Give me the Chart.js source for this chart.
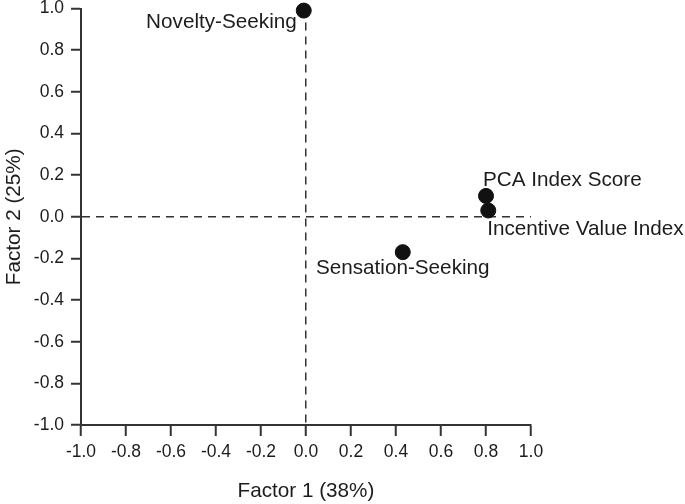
<!DOCTYPE html>
<html>
<head>
<meta charset="utf-8">
<script src="https://cdn.jsdelivr.net/npm/chart.js@4/dist/chart.umd.min.js"></script>
<style>
  html, body { margin: 0; padding: 0; background: #fff; }
</style>
</head>
<body>
<canvas id="myChart" width="685" height="504"></canvas>
<script>
// loadings
const factorNames = ['Novelty-Seeking', 'PCA Index Score', 'Incentive Value Index', 'Sensation-Seeking'];
const factor1 = [-0.01, 0.80, 0.81, 0.43];
const factor2 = [0.99, 0.10, 0.03, -0.17];
const axisTitles = ['Factor 1 (38%)', 'Factor 2 (25%)'];

// where each label sits relative to its dot
const labelPlace = [
  { dx: -7, dy: 12, align: 'right' },
  { dx: -3, dy: -16, align: 'left' },
  { dx: -1, dy: 19, align: 'left' },
  { dx: 0, dy: 16, align: 'center' }
];

const ink = '#1c1c1c';
const fontFamily = '"Liberation Sans", Arial, sans-serif';

function renderChart() {
  const points = factor1.map((x, i) => ({ x: x, y: factor2[i] }));

  const pointLabels = {
    id: 'pointLabels',
    afterDatasetsDraw(chart) {
      const ctx = chart.ctx;
      const meta = chart.getDatasetMeta(0);
      ctx.save();
      ctx.font = '20.7px ' + fontFamily;
      ctx.fillStyle = ink;
      ctx.textBaseline = 'middle';
      meta.data.forEach((pt, i) => {
        const p = labelPlace[i];
        ctx.textAlign = p.align;
        ctx.fillText(factorNames[i], pt.x + p.dx, pt.y + p.dy);
      });
      ctx.restore();
    }
  };

  const zeroOnly = c => (Math.abs(c.tick.value) < 1e-9 ? '#333' : 'rgba(0,0,0,0)');

  const config = {
    type: 'scatter',
    data: {
      datasets: [{
        data: points,
        backgroundColor: '#111',
        borderColor: '#111',
        pointRadius: 7.5,
        pointHoverRadius: 7.5,
        clip: false
      }]
    },
    options: {
      responsive: false,
      animation: false,
      layout: { padding: { top: -2, right: 154, left: 0, bottom: 0 } },
      plugins: {
        legend: { display: false },
        tooltip: { enabled: false }
      },
      scales: {
        x: {
          type: 'linear',
          min: -1,
          max: 1,
          ticks: {
            stepSize: 0.2,
            color: ink,
            padding: 6,
            font: { family: fontFamily, size: 17.5 },
            callback: v => v.toFixed(1)
          },
          grid: {
            color: zeroOnly,
            lineWidth: 1.5,
            tickColor: '#333',
            tickLength: 11,
            tickWidth: 2
          },
          border: { display: true, color: '#333', width: 2, dash: [8, 6] },
          title: {
            display: true,
            text: axisTitles[0],
            color: ink,
            font: { family: fontFamily, size: 20.7 },
            padding: { top: 0, bottom: 0 }
          },
          afterFit(scale) {
            scale.height = 79;
            scale.paddingLeft = 0;
            scale.paddingRight = 0;
          }
        },
        y: {
          type: 'linear',
          min: -1,
          max: 1,
          ticks: {
            stepSize: 0.2,
            color: ink,
            padding: 7,
            font: { family: fontFamily, size: 17.5 },
            callback: v => v.toFixed(1)
          },
          grid: {
            color: zeroOnly,
            lineWidth: 1.5,
            tickColor: '#333',
            tickLength: 10,
            tickWidth: 2
          },
          border: { display: true, color: '#333', width: 2, dash: [8, 6] },
          title: {
            display: true,
            text: axisTitles[1],
            color: ink,
            font: { family: fontFamily, size: 20.7 },
            padding: { top: 2, bottom: 0 }
          },
          afterFit(scale) {
            scale.width = 81;
            scale.paddingTop = 0;
            scale.paddingBottom = 0;
          }
        }
      }
    },
    plugins: [pointLabels]
  };

  const ctx = document.getElementById('myChart').getContext('2d');
  new Chart(ctx, config);
}

renderChart();
</script>
</body>
</html>
